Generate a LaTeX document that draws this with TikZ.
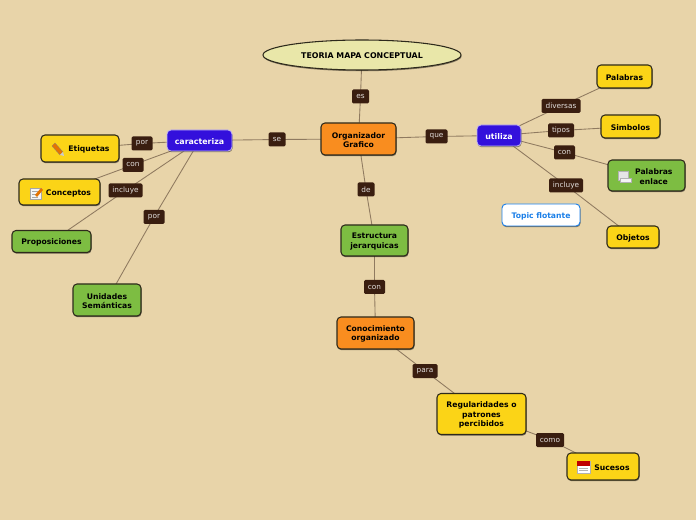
\documentclass[tikz,border=0pt]{standalone}
\usepackage{fontspec}
\setmainfont{DejaVu Sans}
\usetikzlibrary{shapes.geometric,shadows}
\definecolor{pagebg}{HTML}{E8D4A9}
\definecolor{yel}{HTML}{FBD417}
\definecolor{org}{HTML}{F98D1F}
\definecolor{grn}{HTML}{7DBD42}
\definecolor{blu}{HTML}{3310DC}
\definecolor{lbl}{HTML}{3A1E10}
\definecolor{ell}{HTML}{E9E7A9}
\definecolor{edge}{HTML}{8F7A60}
\definecolor{bord}{HTML}{2E2A1C}
\definecolor{flot}{HTML}{1B7FE8}
\pgfdeclarelayer{edges}
\pgfsetlayers{edges,main}
\newcommand{\topstrut}{\rule{0pt}{5.8pt}}
\tikzset{
  x=0.75pt,y=-0.75pt,
  sz/.style n args={2}{minimum width=#1*0.75pt,minimum height=#2*0.75pt},
  shade1/.style={drop shadow={shadow xshift=0.4pt,shadow yshift=-0.9pt,fill=black,opacity=0.45}},
  box/.style={draw=bord,line width=0.8pt,rounded corners=3pt,inner sep=0pt,align=center,
    font=\fontsize{5.75pt}{7.1pt}\selectfont\bfseries,text=black,shade1},
  yellowbox/.style={box,fill=yel},
  orangebox/.style={box,fill=org},
  greenbox/.style={box,fill=grn},
  bluebox/.style={box,fill=blu,draw=white!70!blu,line width=0.6pt,text=white,
    font=\fontsize{5.9pt}{7pt}\selectfont\bfseries},
  floatbox/.style={box,fill=white,draw=flot,line width=0.7pt,text=flot},
  rootbox/.style={ellipse,draw=bord,line width=0.8pt,fill=ell,inner sep=0pt,
    font=\fontsize{5.9pt}{7pt}\selectfont\bfseries,shade1},
  linklabel/.style={fill=lbl,rounded corners=1pt,inner sep=0pt,text=white!85!lbl,
    font=\fontsize{5.5pt}{6pt}\selectfont,minimum height=10.5pt},
  link/.style={draw=edge,line width=0.65pt},
}
\begin{document}
\begin{tikzpicture}
\useasboundingbox (0,0) rectangle (696,520);
\begin{pgfonlayer}{edges}
\fill[pagebg] (0,0) rectangle (696,520);
\end{pgfonlayer}

% concepts
\node[rootbox,sz={198}{30}] (root) at (362,55) {\topstrut TEORIA MAPA CONCEPTUAL};
\node[orangebox,sz={75}{32}] (org) at (358.5,139) {\topstrut Organizador\\Grafico};
\node[bluebox,sz={65}{21}] (car) at (199.5,140.5) {\topstrut caracteriza};
\node[bluebox,sz={44}{21}] (uti) at (499,135.5) {\topstrut utiliza};
\node[yellowbox,sz={78}{27}] (eti) at (80,148.5) {\topstrut\hspace{13.5pt}Etiquetas};
\node[yellowbox,sz={81}{26}] (con) at (59.5,192) {\topstrut\hspace{13.5pt}Conceptos};
\node[greenbox,sz={79}{22}] (pro) at (51.5,241.5) {\topstrut Proposiciones};
\node[greenbox,sz={68}{32}] (uni) at (107,300) {\topstrut Unidades\\Semánticas};
\node[yellowbox,sz={55}{23}] (pal) at (624.5,76.5) {\topstrut Palabras};
\node[yellowbox,sz={59}{23}] (sim) at (630.5,126.5) {\topstrut Simbolos};
\node[greenbox,sz={77}{31}] (enl) at (646.5,175.5) {\topstrut\hspace{11pt}Palabras\\\hspace{11pt}enlace};
\node[floatbox,sz={78}{22}] (flo) at (541,215) {\topstrut Topic flotante};
\node[yellowbox,sz={52}{22}] (obj) at (633,237) {\topstrut Objetos};
\node[greenbox,sz={67}{31}] (est) at (374.5,240.5) {\topstrut Estructura\\jerarquicas};
\node[orangebox,sz={77}{32}] (cno) at (375.5,333) {\topstrut Conocimiento\\organizado};
\node[yellowbox,sz={89}{41}] (reg) at (481.5,414) {\topstrut Regularidades o\\patrones\\percibidos};
\node[yellowbox,sz={72}{27}] (suc) at (603,466.5) {\topstrut\hspace{13.5pt}Sucesos};

% linking phrases
\node[linklabel,sz={17}{14}] (es) at (360.5,96.5) {es};
\node[linklabel,sz={17}{14}] (se) at (277,139.5) {se};
\node[linklabel,sz={22}{14}] (que) at (436.5,136.5) {que};
\node[linklabel,sz={17}{14}] (de) at (366,189.5) {de};
\node[linklabel,sz={21}{14}] (cn1) at (374.5,287) {con};
\node[linklabel,sz={25}{14}] (para) at (425,371) {para};
\node[linklabel,sz={28}{14}] (como) at (550,440) {como};
\node[linklabel,sz={21}{14}] (por1) at (142,143.5) {por};
\node[linklabel,sz={21}{14}] (cn2) at (133,165) {con};
\node[linklabel,sz={34}{14}] (inc1) at (125.5,190.5) {incluye};
\node[linklabel,sz={21}{14}] (por2) at (154,217) {por};
\node[linklabel,sz={39}{14}] (div) at (561,106) {diversas};
\node[linklabel,sz={26}{14}] (tip) at (561,130.5) {tipos};
\node[linklabel,sz={21}{14}] (cn3) at (564.5,152.5) {con};
\node[linklabel,sz={34}{14}] (inc2) at (566,185.5) {incluye};

% connectors
\begin{pgfonlayer}{edges}
\draw[link] (root.center) -- (es.center) -- (org.center);
\draw[link] (org.center) -- (se.center) -- (car.center);
\draw[link] (org.center) -- (que.center) -- (uti.center);
\draw[link] (org.center) -- (de.center) -- (est.center);
\draw[link] (est.center) -- (cn1.center) -- (cno.center);
\draw[link] (cno.center) -- (para.center) -- (reg.center);
\draw[link] (reg.center) -- (como.center) -- (suc.center);
\draw[link] (car.center) -- (por1.center) -- (eti.center);
\draw[link] (car.center) -- (cn2.center) -- (con.center);
\draw[link] (car.center) -- (inc1.center) -- (pro.center);
\draw[link] (car.center) -- (por2.center) -- (uni.center);
\draw[link] (uti.center) -- (div.center) -- (pal.center);
\draw[link] (uti.center) -- (tip.center) -- (sim.center);
\draw[link] (uti.center) -- (cn3.center) -- (enl.center);
\draw[link] (uti.center) -- (inc2.center) -- (obj.center);
\end{pgfonlayer}

% icons
% pencil (Etiquetas)
\fill[orange!90!black,draw=gray,line width=0.2pt] (52,146) -- (55,143) -- (63,152) -- (60,155) -- cycle;
\fill[white!60!gray] (60,155) -- (63,152) -- (64,156) -- cycle;
% notepad with pencil (Conceptos)
\fill[white!92!gray,draw=gray!70,line width=0.2pt] (30,188) rectangle (41,199);
\draw[gray!70,line width=0.3pt] (32,191) -- (38,191) (32,194) -- (38,194) (32,197) -- (38,197);
\fill[orange!90!black] (35,195) -- (41,188) -- (43,190) -- (37,197) -- cycle;
% sheet (Palabras enlace)
\fill[white!80!gray,draw=gray!60,line width=0.2pt] (618,171) rectangle (628,180);
\fill[white!92!gray,draw=gray!60,line width=0.2pt] (620,178) rectangle (631,182);
% calendar (Sucesos)
\fill[white,draw=gray!60,line width=0.2pt] (577,461) rectangle (590,473);
\fill[red!75!black] (577,461) rectangle (590,465.5);
\draw[gray!60,line width=0.3pt] (579,468) -- (588,468) (579,470.5) -- (588,470.5);
\end{tikzpicture}
\end{document}
